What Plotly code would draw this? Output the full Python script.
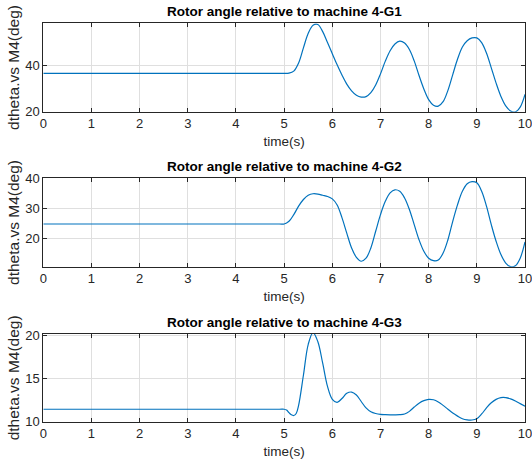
import plotly.graph_objects as go

# ---- data ----
t12 = [0, 4.9, 5.0, 5.1, 5.2, 5.3, 5.4, 5.5, 5.6, 5.7, 5.8, 5.9, 6.0, 6.1, 6.2, 6.3, 6.4,
       6.5, 6.6, 6.7, 6.8, 6.9, 7.0, 7.1, 7.2, 7.3, 7.4, 7.5, 7.6, 7.7, 7.8, 7.9, 8.0,
       8.1, 8.2, 8.3, 8.4, 8.5, 8.6, 8.7, 8.8, 8.9, 9.0, 9.1, 9.2, 9.3, 9.4, 9.5, 9.6,
       9.7, 9.8, 9.9, 10.0]
g1 = [36.5, 36.5, 36.5, 36.6, 37.5, 41.0, 47.5, 53.8, 57.3, 57.6, 54.5, 49.8, 45.0,
      40.2, 35.8, 31.9, 29.0, 27.1, 26.3, 26.5, 28.2, 31.5, 36.3, 41.8, 46.3, 49.2,
      50.4, 49.6, 46.8, 41.9, 35.6, 29.8, 25.2, 22.8, 22.4, 24.3, 29.2, 36.0, 42.7,
      47.9, 50.6, 51.8, 51.8, 49.8, 45.3, 38.9, 32.3, 26.6, 22.5, 20.3, 19.9, 22.0, 27.5]
g2 = [24.9, 24.9, 24.9, 25.8, 28.0, 30.8, 33.0, 34.4, 34.9, 34.8, 34.4, 34.0, 33.2,
      31.2, 27.0, 21.9, 17.0, 13.9, 12.6, 13.6, 17.0, 22.5, 28.0, 32.4, 35.2, 36.2,
      35.7, 33.5, 29.7, 24.7, 19.7, 15.9, 13.6, 12.8, 13.0, 15.3, 19.7, 25.8, 31.3,
      35.7, 38.2, 38.9, 38.5, 35.7, 30.8, 24.7, 19.2, 14.8, 12.0, 10.8, 11.1, 13.6, 19.0]
t3 = [0, 4.9, 5.0, 5.05, 5.1, 5.15, 5.2, 5.25, 5.3, 5.4, 5.5, 5.6, 5.7, 5.8, 5.9, 6.0,
      6.1, 6.2, 6.3, 6.4, 6.5, 6.6, 6.7, 6.8, 6.9, 7.0, 7.1, 7.2, 7.3, 7.4, 7.5, 7.6,
      7.7, 7.8, 7.9, 8.0, 8.1, 8.2, 8.3, 8.4, 8.5, 8.6, 8.7, 8.8, 8.9, 9.0, 9.1, 9.2,
      9.3, 9.4, 9.5, 9.6, 9.7, 9.8, 9.9, 10.0]
g3 = [11.45, 11.45, 11.45, 11.35, 11.05, 10.8, 10.72, 10.95, 11.9, 15.4, 19.0, 20.35,
      19.3, 16.8, 14.1, 12.6, 12.25, 12.7, 13.3, 13.45, 13.1, 12.35, 11.6, 11.15, 10.95,
      10.85, 10.82, 10.8, 10.8, 10.82, 10.9, 11.2, 11.7, 12.15, 12.45, 12.6, 12.55, 12.3,
      11.9, 11.45, 11.0, 10.65, 10.35, 10.22, 10.2, 10.35, 10.9, 11.6, 12.2, 12.6, 12.8,
      12.8, 12.65, 12.4, 12.1, 11.8]

titles = ["Rotor angle relative to machine 4-G1",
          "Rotor angle relative to machine 4-G2",
          "Rotor angle relative to machine 4-G3"]
x_label = "time(s)"
y_label = "dtheta.vs M4(deg)"
y_ranges = [[20, 58.1], [10.8, 40], [10, 20.2]]
y_dticks = [20, 10, 5]

series = [(t12, g1), (t12, g2), (t3, g3)]

# ---- layout ----
W, H = 532, 466
x_dom = [43.3 / W, 525.0 / W]
tops = [23.3, 178.3, 334.0]
bottoms = [111.7, 266.7, 421.7]

FONT = "Liberation Sans, Arial, Helvetica, sans-serif"
AX = "#262626"
GRID = "#dfdfdf"
BLUE = "#0072BD"

fig = go.Figure()
annotations = []
for i, ((tx, ty), title) in enumerate(zip(series, titles)):
    n = "" if i == 0 else str(i + 1)
    fig.add_trace(go.Scatter(x=tx, y=ty, mode="lines",
                             line=dict(color=BLUE, width=1.2, shape="spline"),
                             xaxis="x" + n, yaxis="y" + n, showlegend=False,
                             hoverinfo="skip"))
    ydom = [1 - bottoms[i] / H, 1 - tops[i] / H]
    common = dict(showline=True, linecolor=AX, linewidth=1, mirror="allticks",
                  ticks="inside", ticklen=4, tickcolor=AX, tickwidth=1,
                  showgrid=True, gridcolor=GRID, gridwidth=1, zeroline=False,
                  automargin=False, ticklabeloverflow="allow",
                  tickfont=dict(family=FONT, size=13, color=AX))
    fig.update_layout(**{
        "xaxis" + n: dict(domain=x_dom, range=[0, 10], dtick=1, tick0=0,
                          anchor="y" + n,
                          title=dict(text=x_label, standoff=6,
                                     font=dict(family=FONT, size=13.5, color=AX)),
                          **common),
        "yaxis" + n: dict(domain=ydom, range=y_ranges[i], dtick=y_dticks[i], tick0=0,
                          anchor="x" + n,
                          title=dict(text=y_label, standoff=1,
                                     font=dict(family=FONT, size=15.5, color=AX)),
                          **common),
    })
    annotations.append(dict(text="<b>" + title + "</b>", x=(x_dom[0] + x_dom[1]) / 2,
                            y=ydom[1], xref="paper", yref="paper", xanchor="center",
                            yanchor="bottom", yshift=2, showarrow=False,
                            font=dict(family=FONT, size=13.5, color="#000000")))

fig.update_layout(width=W, height=H, margin=dict(l=0, r=0, t=0, b=0),
                  paper_bgcolor="white", plot_bgcolor="white",
                  annotations=annotations)

fig.write_html("out.html")
